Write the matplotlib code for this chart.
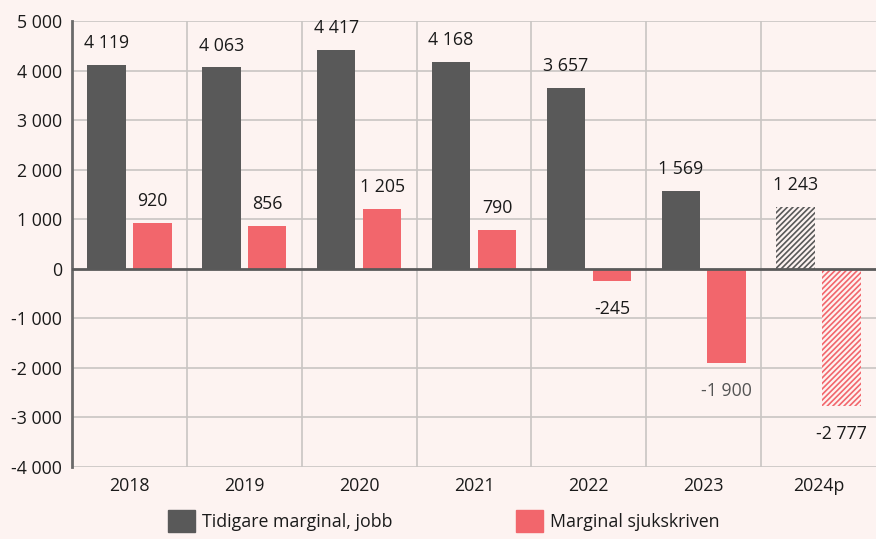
import matplotlib
matplotlib.use("Agg")
import matplotlib.pyplot as plt
import numpy as np
from matplotlib.patches import Patch

plt.rcParams['font.family'] = ['Open Sans', 'DejaVu Sans']
plt.rcParams['hatch.linewidth'] = 1.2

categories = ["2018", "2019", "2020", "2021", "2022", "2023", "2024p"]
jobb = [4119, 4063, 4417, 4168, 3657, 1569, 1243]
sjuk = [920, 856, 1205, 790, -245, -1900, -2777]
jobb_labels = ["4 119", "4 063", "4 417", "4 168", "3 657", "1 569", "1 243"]
sjuk_labels = ["920", "856", "1 205", "790", "-245", "-1 900", "-2 777"]
yticks = [-4000, -3000, -2000, -1000, 0, 1000, 2000, 3000, 4000, 5000]
ytick_labels = ["-4 000", "-3 000", "-2 000", "-1 000", "0", "1 000", "2 000", "3 000", "4 000", "5 000"]
series_names = ["Tidigare marginal, jobb", "Marginal sjukskriven"]

bg = "#fdf3f1"
dark = "#595959"
pink = "#f2666c"
grid = "#c9c5c3"
FS = 12.8

fig = plt.figure(figsize=(8.76, 5.39), dpi=100, facecolor=bg)
ax = fig.add_axes([72/876, 1-467/539, 804/876, (467-21)/539], facecolor=bg)

x = np.arange(len(categories))
w = 0.335
off = 0.2
n = len(categories)
for i in range(n):
    hatched = categories[i].endswith("p")
    if hatched:
        ax.bar(x[i]-off, jobb[i], w, facecolor=bg, edgecolor=dark, hatch='//////', linewidth=0, zorder=3)
        ax.bar(x[i]+off, sjuk[i], w, facecolor=bg, edgecolor=pink, hatch='//////', linewidth=0, zorder=3)
    else:
        ax.bar(x[i]-off, jobb[i], w, color=dark, zorder=3)
        ax.bar(x[i]+off, sjuk[i], w, color=pink, zorder=3)

for i in range(n):
    ax.text(x[i]-off, jobb[i]+260, jobb_labels[i], ha='center', va='bottom', fontsize=FS, color='#1a1a1a')
    if sjuk[i] >= 0:
        ax.text(x[i]+off, sjuk[i]+260, sjuk_labels[i], ha='center', va='bottom', fontsize=FS, color='#1a1a1a')
    else:
        col = '#555555' if sjuk[i] == -1900 else '#1a1a1a'
        ax.text(x[i]+off, sjuk[i]-380, sjuk_labels[i], ha='center', va='top', fontsize=FS, color=col)

ax.set_xlim(-0.5, n-0.5)
ax.set_ylim(-4000, 5000)
ax.set_yticks(yticks)
ax.set_yticklabels(ytick_labels, fontsize=FS, color='#1a1a1a')
ax.set_xticks(x)
ax.set_xticklabels(categories, fontsize=FS, color='#1a1a1a')
ax.tick_params(axis='x', length=0, pad=7)
ax.tick_params(axis='y', length=0, pad=7)

for y in yticks:
    if y != 0:
        ax.axhline(y, color=grid, lw=1.2, zorder=1)
for b in np.arange(0.5, n-0.5, 1.0):
    ax.axvline(b, color=grid, lw=1.2, zorder=1)
ax.axhline(0, color='#5a5a5a', lw=2, zorder=4)

for s in ['top', 'right', 'bottom']:
    ax.spines[s].set_visible(False)
ax.spines['left'].set_color('#6a6a6a')
ax.spines['left'].set_linewidth(2)

anchors = [168/876, 516/876]
for name, colr, ax_x in zip(series_names, [dark, pink], anchors):
    leg = fig.legend([Patch(color=colr)], [name], loc='upper left',
                     bbox_to_anchor=(ax_x, 1-510/539), frameon=False, fontsize=FS,
                     handlelength=1.5, handleheight=1.5, handletextpad=0.4,
                     borderpad=0, borderaxespad=0)
    for t in leg.get_texts():
        t.set_color('#1a1a1a')

fig.savefig("out.png", dpi=100, facecolor=bg)
